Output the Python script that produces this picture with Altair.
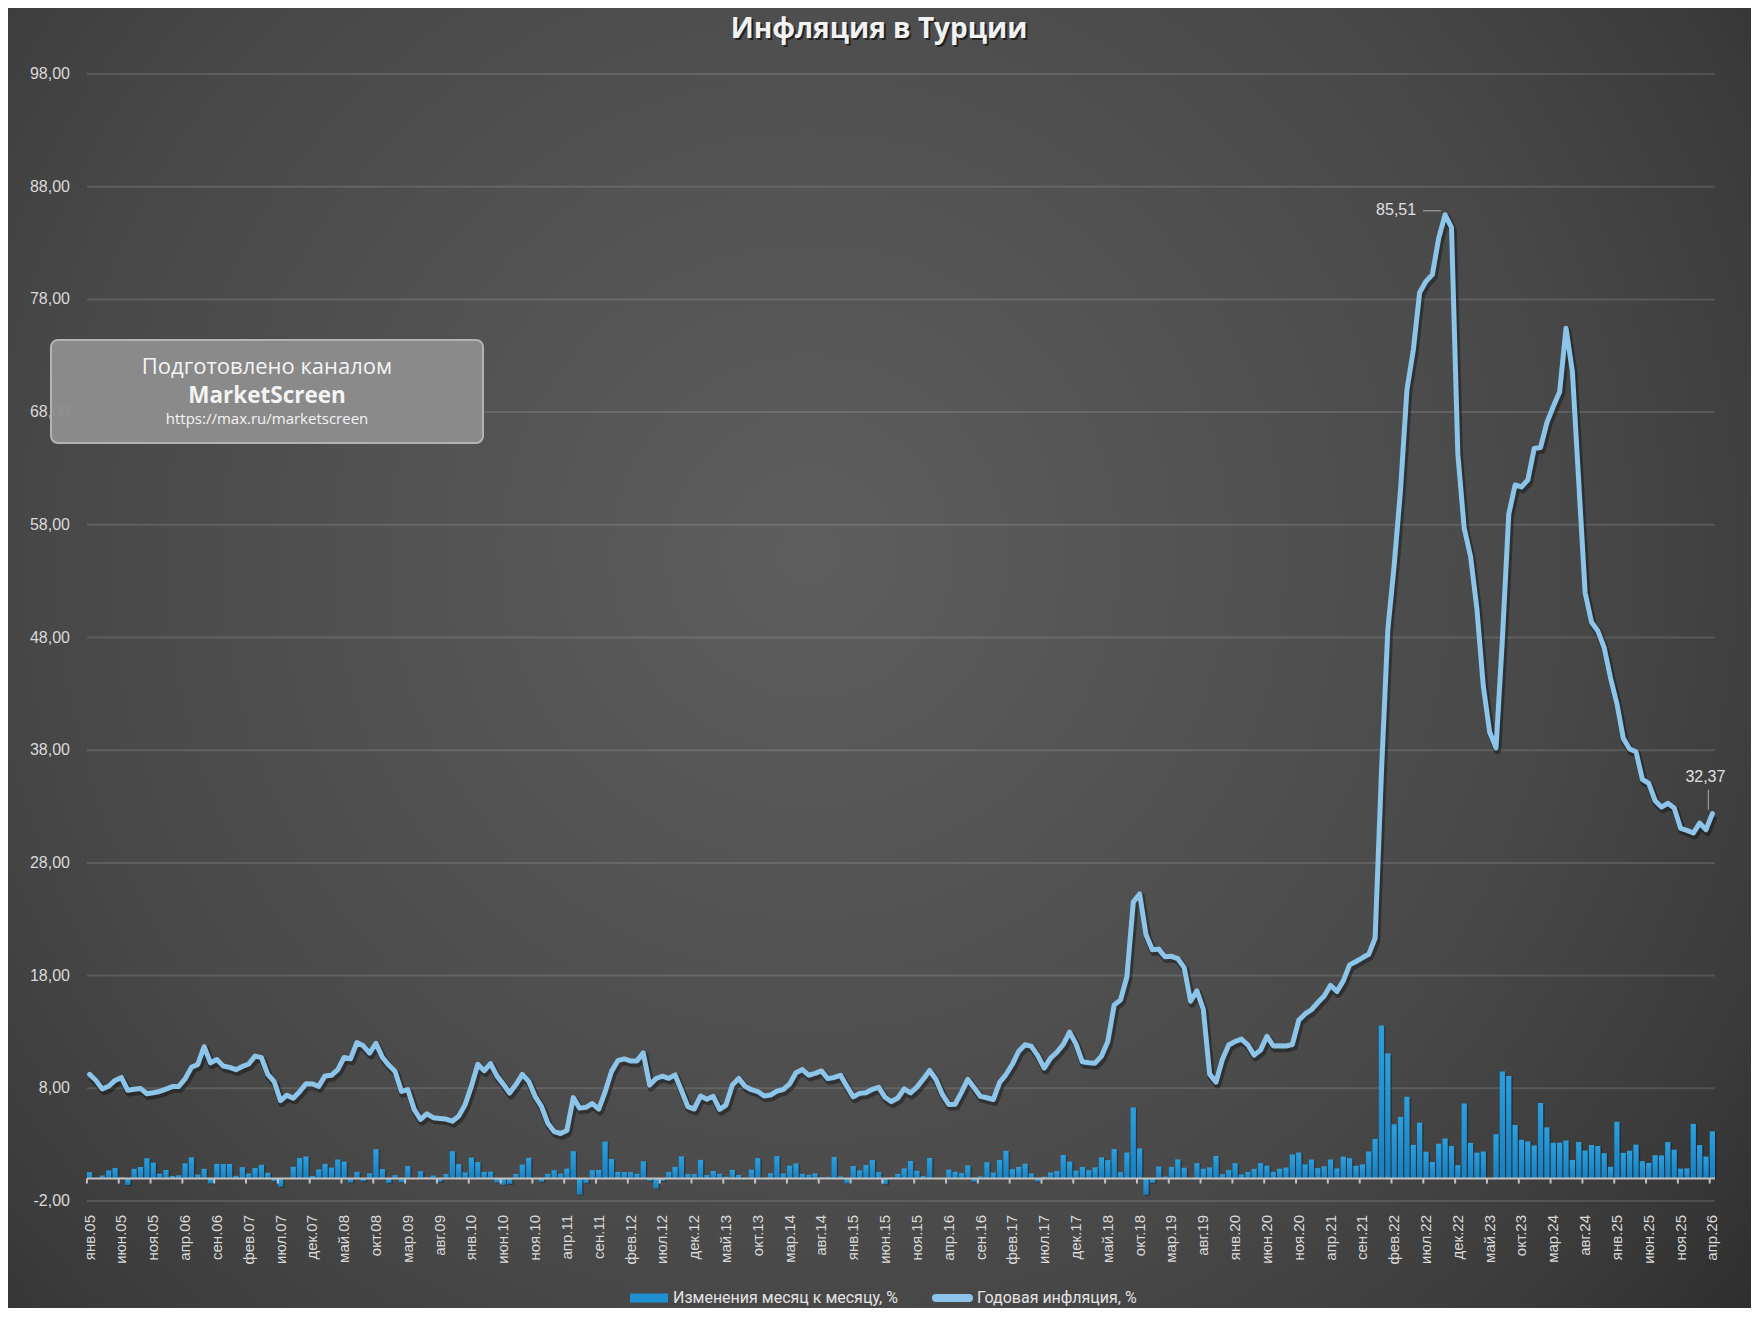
import altair as alt
import pandas as pd

# ---------------- data ----------------
months_ru = ["янв", "фев", "мар", "апр", "май", "июн", "июл", "авг", "сен", "окт", "ноя", "дек"]
years = list(range(2005, 2027))
labels = [f"{m}.{str(y)[2:]}" for y in years for m in months_ru][:256]

# annual inflation, %
yoy = [
    9.24, 8.69, 7.94, 8.18, 8.70, 8.95, 7.82, 7.91, 7.99, 7.52, 7.61, 7.72,
    7.93, 8.15, 8.16, 8.83, 9.86, 10.12, 11.69, 10.26, 10.55, 9.98, 9.86, 9.65,
    9.93, 10.16, 10.86, 10.72, 9.23, 8.60, 6.90, 7.39, 7.12, 7.70, 8.40, 8.39,
    8.17, 9.10, 9.15, 9.66, 10.74, 10.61, 12.06, 11.77, 11.13, 11.99, 10.76, 10.06,
    9.50, 7.73, 7.89, 6.13, 5.24, 5.73, 5.39, 5.33, 5.27, 5.08, 5.53, 6.53,
    8.19, 10.13, 9.56, 10.19, 9.10, 8.37, 7.58, 8.33, 9.24, 8.62, 7.29, 6.40,
    4.90, 4.16, 3.99, 4.26, 7.17, 6.24, 6.31, 6.65, 6.15, 7.66, 9.48, 10.45,
    10.61, 10.43, 10.43, 11.14, 8.28, 8.87, 9.07, 8.88, 9.19, 7.80, 6.37, 6.16,
    7.31, 7.03, 7.29, 6.13, 6.51, 8.30, 8.88, 8.17, 7.88, 7.71, 7.32, 7.40,
    7.75, 7.89, 8.39, 9.38, 9.66, 9.16, 9.32, 9.54, 8.86, 8.96, 9.15, 8.17,
    7.24, 7.55, 7.61, 7.91, 8.09, 7.20, 6.81, 7.14, 7.95, 7.58, 8.10, 8.81,
    9.58, 8.78, 7.46, 6.57, 6.58, 7.64, 8.79, 8.05, 7.28, 7.16, 7.00, 8.53,
    9.22, 10.13, 11.29, 11.87, 11.72, 10.90, 9.79, 10.68, 11.20, 11.90, 12.98, 11.92,
    10.35, 10.26, 10.23, 10.85, 12.15, 15.39, 15.85, 17.90, 24.52, 25.24, 21.62, 20.30,
    20.35, 19.67, 19.71, 19.50, 18.71, 15.72, 16.65, 15.01, 9.26, 8.55, 10.56, 11.84,
    12.15, 12.37, 11.86, 10.94, 11.39, 12.62, 11.76, 11.77, 11.75, 11.89, 14.03, 14.60,
    14.97, 15.61, 16.19, 17.14, 16.59, 17.53, 18.95, 19.25, 19.58, 19.89, 21.31, 36.08,
    48.69, 54.44, 61.14, 69.97, 73.50, 78.62, 79.60, 80.21, 83.45, 85.51, 84.39, 64.27,
    57.68, 55.18, 50.51, 43.68, 39.59, 38.21, 47.83, 58.94, 61.53, 61.36, 61.98, 64.77,
    64.86, 67.07, 68.50, 69.80, 75.45, 71.60, 61.78, 51.97, 49.38, 48.58, 47.09, 44.38,
    42.12, 39.05, 38.10, 37.86, 35.41, 35.05, 33.52, 32.95, 33.29, 32.87, 31.07, 30.89,
    30.65, 31.53, 30.95, 32.37,
]

# month-over-month change, %
mom = [
    0.55, 0.02, 0.26, 0.71, 0.92, 0.10, -0.57, 0.85, 1.02, 1.79, 1.40, 0.42,
    0.75, 0.22, 0.27, 1.34, 1.88, 0.34, 0.85, -0.44, 1.29, 1.27, 1.29, 0.23,
    1.00, 0.43, 0.92, 1.21, 0.50, -0.24, -0.73, 0.02, 1.03, 1.81, 1.95, 0.22,
    0.80, 1.29, 0.96, 1.68, 1.49, -0.36, 0.58, -0.24, 0.45, 2.60, 0.83, -0.41,
    0.29, -0.34, 1.10, 0.02, 0.64, 0.11, 0.25, -0.30, 0.39, 2.41, 1.27, 0.53,
    1.85, 1.45, 0.58, 0.60, -0.36, -0.56, -0.48, 0.40, 1.23, 1.83, 0.03, -0.30,
    0.41, 0.73, 0.42, 0.87, 2.42, -1.43, -0.41, 0.73, 0.75, 3.27, 1.73, 0.58,
    0.56, 0.56, 0.41, 1.52, -0.21, -0.90, -0.23, 0.56, 1.03, 1.96, 0.38, 0.38,
    1.65, 0.30, 0.66, 0.42, 0.15, 0.76, 0.31, -0.10, 0.77, 1.80, 0.01, 0.46,
    1.98, 0.43, 1.13, 1.34, 0.40, 0.31, 0.45, 0.09, 0.14, 1.90, 0.18, -0.44,
    1.10, 0.71, 1.19, 1.63, 0.56, -0.51, 0.09, 0.40, 0.89, 1.55, 0.67, 0.21,
    1.82, -0.02, -0.04, 0.78, 0.58, 0.47, 1.16, -0.29, 0.18, 1.44, 0.52, 1.64,
    2.46, 0.81, 1.02, 1.31, 0.45, -0.27, 0.15, 0.52, 0.65, 2.08, 1.49, 0.69,
    1.02, 0.73, 0.99, 1.87, 1.62, 2.61, 0.55, 2.30, 6.30, 2.67, -1.44, -0.40,
    1.06, 0.16, 1.03, 1.69, 0.95, 0.03, 1.36, 0.86, 0.99, 2.00, 0.38, 0.74,
    1.35, 0.35, 0.57, 0.85, 1.36, 1.13, 0.58, 0.86, 0.97, 2.13, 2.30, 1.25,
    1.68, 0.91, 1.08, 1.68, 0.89, 1.94, 1.80, 1.12, 1.25, 2.39, 3.51, 13.58,
    11.10, 4.81, 5.46, 7.25, 2.98, 4.95, 2.37, 1.46, 3.08, 3.54, 2.88, 1.18,
    6.65, 3.15, 2.29, 2.39, 0.04, 3.92, 9.49, 9.09, 4.75, 3.43, 3.28, 2.93,
    6.70, 4.53, 3.16, 3.18, 3.37, 1.64, 3.23, 2.47, 2.97, 2.88, 2.24, 1.03,
    5.03, 2.27, 2.46, 3.00, 1.53, 1.37, 2.06, 2.04, 3.23, 2.55, 0.87, 0.89,
    4.84, 2.96, 1.94, 4.18,
]

y_ticks = [-2, 8, 18, 28, 38, 48, 58, 68, 78, 88, 98]
y_tick_labels = [f"{v:.2f}".replace(".", ",") for v in y_ticks]
x_tick_labels = labels[::5]

ann_peak = {"m": ["окт.22"], "v": [85.51], "t": ["85,51"]}
ann_last = {"m": ["апр.26"], "v": [32.37], "t": ["32,37"]}

TITLE = "Инфляция в Турции"
BAR_LBL = "Изменения месяц к месяцу, %"
LINE_LBL = "Годовая инфляция, %"
WM = ["Подготовлено каналом", "MarketScreen", "https://max.ru/marketscreen"]

# ---------------- styling ----------------
W, H = 1628, 1127
L, T, R, B = 79, 66, 36, 107
BAR_C = "#1d90d2"
LINE_C = "#8cc4ea"
TXT = "#dadada"

df = pd.DataFrame({"m": labels, "mom": mom, "yoy": yoy})
one = pd.DataFrame({"k": [0]})

xscale = alt.Scale(domain=labels, paddingInner=0.18, paddingOuter=0.0)
yscale = alt.Scale(domain=[-2, 98], nice=False, zero=True)


def xenc():
    return alt.X("m:N", scale=xscale, axis=None, title=None)


def yenc(field):
    return alt.Y(field, scale=yscale, axis=None, title=None)


bg = alt.Chart(one).mark_rect(
    fill={
        "gradient": "radial", "x1": 0.46, "y1": 0.44, "r1": 0,
        "x2": 0.46, "y2": 0.44, "r2": 0.72,
        "stops": [
            {"offset": 0, "color": "#5e5e5e"},
            {"offset": 0.6, "color": "#484848"},
            {"offset": 0.82, "color": "#3b3b3b"},
            {"offset": 1, "color": "#2b2b2b"},
        ],
    }
).encode(x=alt.value(-L), x2=alt.value(W + R), y=alt.value(-T), y2=alt.value(H + B))

grid = alt.Chart(pd.DataFrame({"v": y_ticks})).mark_rule(
    color="#ffffff", opacity=0.12, strokeWidth=2
).encode(y=yenc("v:Q"), x=alt.value(0), x2=alt.value(W))

ylab = alt.Chart(pd.DataFrame({"v": y_ticks, "t": y_tick_labels})).mark_text(
    align="right", baseline="middle", font="Liberation Sans", fontSize=16, color=TXT
).encode(y=yenc("v:Q"), x=alt.value(-17), text="t:N")

xlab = alt.Chart(pd.DataFrame({"m": x_tick_labels})).mark_text(
    angle=270, align="right", baseline="middle", font="Liberation Sans", fontSize=15, color=TXT
).encode(x=xenc(), y=alt.value(H + 14), text="m:N")

bar_sh = alt.Chart(df).mark_bar(color="#000000", opacity=0.28, xOffset=1.5, yOffset=1).encode(
    x=xenc(), y=yenc("mom:Q")
)

bars = alt.Chart(df).mark_bar(
    fill={
        "gradient": "linear", "x1": 0, "y1": 0, "x2": 0, "y2": 1,
        "stops": [{"offset": 0, "color": "#2aa0e0"}, {"offset": 1, "color": "#1680c2"}],
    }
).encode(x=xenc(), y=yenc("mom:Q"))

zero = alt.Chart(pd.DataFrame({"z": [0]})).mark_rule(color="#c2c2c2", strokeWidth=2).encode(
    y=yenc("z:Q"), x=alt.value(0), x2=alt.value(W)
)

ticks = alt.Chart(pd.DataFrame({"m": x_tick_labels, "z0": [0] * len(x_tick_labels),
                                "z1": [-0.45] * len(x_tick_labels)})).mark_rule(
    color="#c2c2c2", strokeWidth=2, xOffset=-2.7
).encode(x=xenc(), y=yenc("z0:Q"), y2="z1:Q")

line_sh = alt.Chart(df).mark_line(
    color="#000000", opacity=0.35, strokeWidth=7.5, xOffset=1.5, yOffset=2.5, strokeJoin="round"
).encode(x=xenc(), y=yenc("yoy:Q"))

line = alt.Chart(df).mark_line(color=LINE_C, strokeWidth=5, strokeJoin="round", strokeCap="round").encode(
    x=xenc(), y=yenc("yoy:Q")
)

peak_txt = alt.Chart(pd.DataFrame(ann_peak)).mark_text(
    font="Liberation Sans", fontSize=16, color="#e0e0e0", align="center", baseline="middle", dx=-49, dy=-5
).encode(x=xenc(), y=yenc("v:Q"), text="t:N")
peak_lead = alt.Chart(pd.DataFrame(ann_peak)).mark_tick(
    color="#bdbdbd", orient="horizontal", size=18, thickness=1.3, xOffset=-13, yOffset=-4
).encode(x=xenc(), y=yenc("v:Q"))

last_txt = alt.Chart(pd.DataFrame(ann_last)).mark_text(
    font="Liberation Sans", fontSize=16, color="#e0e0e0", align="center", baseline="middle", dx=-7, dy=-37
).encode(x=xenc(), y=yenc("v:Q"), text="t:N")
last_lead = alt.Chart(pd.DataFrame(ann_last)).mark_tick(
    color="#bdbdbd", orient="vertical", size=20, thickness=1.3, xOffset=-4, yOffset=-14
).encode(x=xenc(), y=yenc("v:Q"))

# legend (drawn manually)
LGY = H + 97
leg_bar = alt.Chart(one).mark_rect(color=BAR_C).encode(
    x=alt.value(543), x2=alt.value(581), y=alt.value(LGY - 4.5), y2=alt.value(LGY + 4.5))
leg_bar_t = alt.Chart(one).mark_text(text=BAR_LBL, font="Roboto", fontSize=16, color="#e3e3e3",
                                     align="left", baseline="middle").encode(x=alt.value(586), y=alt.value(LGY))
leg_line = alt.Chart(one).mark_rule(color=LINE_C, strokeWidth=8, strokeCap="round").encode(
    x=alt.value(849), x2=alt.value(882), y=alt.value(LGY))
leg_line_t = alt.Chart(one).mark_text(text=LINE_LBL, font="Roboto", fontSize=16, color="#e3e3e3",
                                      align="left", baseline="middle").encode(x=alt.value(890), y=alt.value(LGY))

box = alt.Chart(one).mark_rect(
    fill="#8c8c8c", fillOpacity=0.96, stroke="#b3b3b3", strokeWidth=2, cornerRadius=7
).encode(x=alt.value(-36), x2=alt.value(396), y=alt.value(266), y2=alt.value(369))

wm1 = alt.Chart(one).mark_text(text=WM[0], font="Open Sans", fontSize=22, color="#f4f4f4",
                               align="center", baseline="middle").encode(x=alt.value(180), y=alt.value(293))
wm2 = alt.Chart(one).mark_text(text=WM[1], font="Open Sans", fontSize=22.5, fontWeight="bold", color="#f4f4f4",
                               align="center", baseline="middle").encode(x=alt.value(180), y=alt.value(322))
wm3 = alt.Chart(one).mark_text(text=WM[2], font="Open Sans", fontSize=15, color="#f4f4f4",
                               align="center", baseline="middle").encode(x=alt.value(180), y=alt.value(345))

title_sh = alt.Chart(one).mark_text(text=TITLE, font="Open Sans", fontSize=28, fontWeight="bold",
                                    color="#000000", opacity=0.55, align="center", baseline="middle"
                                    ).encode(x=alt.value(794), y=alt.value(-42))
title = alt.Chart(one).mark_text(text=TITLE, font="Open Sans", fontSize=28, fontWeight="bold",
                                 color="#f2f2f2", align="center", baseline="middle"
                                 ).encode(x=alt.value(792), y=alt.value(-44))

chart = alt.layer(
    bg, grid, ylab, xlab, bar_sh, bars, zero, ticks, line_sh, line,
    peak_lead, peak_txt, last_lead, last_txt,
    leg_bar, leg_bar_t, leg_line, leg_line_t,
    box, wm1, wm2, wm3, title_sh, title,
).properties(
    width=W, height=H,
    padding=0,
    background="#2e2e2e",
).configure_view(stroke=None)

chart.save("out.html", embed_options={"renderer": "svg", "actions": False})
